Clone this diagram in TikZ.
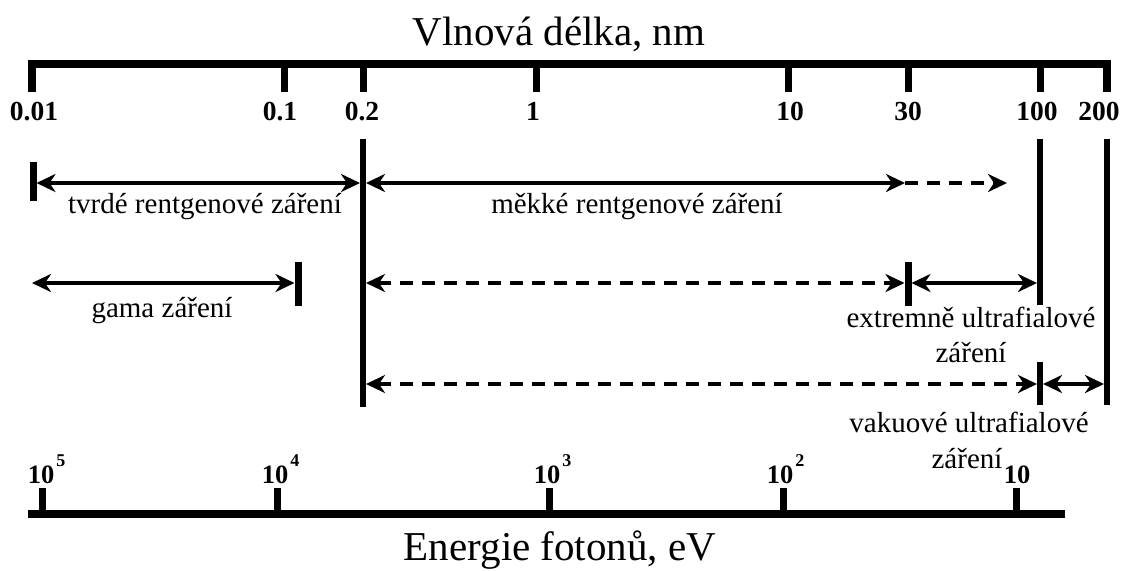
\documentclass[tikz,border=0pt]{standalone}
\usepackage{fontspec}
\setmainfont{Liberation Serif}
\usetikzlibrary{arrows.meta}
\tikzset{
  axisln/.style={line width=7.5pt, line cap=butt, line join=miter},
  tickln/.style={line width=7pt, line cap=butt},
  bigline/.style={line width=6pt, line cap=butt},
  barln/.style={line width=7pt, line cap=butt},
  rng/.style={line width=3.5pt, line cap=butt},
  both/.style={rng, {Stealth[length=19pt,width=18pt,inset=6pt]}-{Stealth[length=19pt,width=18pt,inset=6pt]}},
  onlyright/.style={rng, -{Stealth[length=19pt,width=18pt,inset=6pt]}},
  dsh/.style={dash pattern=on 13pt off 9pt},
  ticklab/.style={font=\fontsize{27.5}{27.5}\selectfont\bfseries, anchor=base, inner sep=0pt},
  elab/.style={font=\fontsize{26.5}{26.5}\selectfont\bfseries, anchor=base, inner sep=0pt},
  lab/.style={font=\fontsize{29}{30}\selectfont, anchor=base, inner sep=0pt},
  ttl/.style={font=\fontsize{41}{41}\selectfont, anchor=base, inner sep=0pt}
}
\newcommand{\tenpow}[1]{10\rlap{\hspace{2pt}\raisebox{17pt}{\fontsize{18}{18}\selectfont\bfseries #1}}}
\begin{document}
\begin{tikzpicture}[x=1pt,y=-1pt]
\useasboundingbox (0,0) rectangle (1126,570);

% titles
\node[ttl] (ttop) at (559,45) {Vlnová délka, nm};
\node[ttl] (tbot) at (560,560) {Energie fotonů, eV};

% top axis coordinates
\coordinate (w001) at (32,64);
\coordinate (w01)  at (284,64);
\coordinate (w02)  at (363,64);
\coordinate (w1)   at (536,64);
\coordinate (w10)  at (788,64);
\coordinate (w30)  at (908,64);
\coordinate (w100) at (1040,64);
\coordinate (w200) at (1107,64);

\draw[axisln] ([yshift=-28pt]w001) -- (w001) -- (w200) -- ([yshift=-28pt]w200);
\foreach \t in {w01,w02,w1,w10,w30,w100}
  \draw[tickln] (\t) -- ++(0,28);

% top labels
\node[ticklab] (l001) at (34,120) {0.01};
\node[ticklab] (l01)  at (280,120) {0.1};
\node[ticklab] (l02)  at (362,120) {0.2};
\node[ticklab] (l1)   at (533,120) {1};
\node[ticklab] (l10)  at (790,120) {10};
\node[ticklab] (l30)  at (908,120) {30};
\node[ticklab] (l100) at (1037,120) {100};
\node[ticklab] (l200) at (1099,120) {200};

% long vertical lines
\coordinate (v02a) at (363,139);  \coordinate (v02b) at (363,407);
\coordinate (v100a) at (1040,139); \coordinate (v100b) at (1040,305);
\coordinate (v200a) at (1107,139); \coordinate (v200b) at (1107,405);
\draw[bigline] (v02a) -- (v02b);
\draw[bigline] (v100a) -- (v100b);
\draw[bigline] (v200a) -- (v200b);

% short bars
\coordinate (b1a) at (33,162);   \coordinate (b1b) at (33,201);
\coordinate (bga) at (298,262);  \coordinate (bgb) at (298,306);
\coordinate (b30a) at (908,262); \coordinate (b30b) at (908,306);
\coordinate (b10a) at (1040,362); \coordinate (b10b) at (1040,405);
\draw[barln] (b1a) -- (b1b);
\draw[barln] (bga) -- (bgb);
\draw[barln] (b30a) -- (b30b);
\draw[bigline] (b10a) -- (b10b);

% row 1
\coordinate (r1a) at (36.5,183);
\coordinate (r1b) at (360,183);
\coordinate (r1c) at (366,183);
\coordinate (r1d) at (905,183);
\coordinate (r1e) at (1007,183);
\draw[both] (r1a) -- (r1b);
\draw[both] (r1c) -- (r1d);
\draw[onlyright, dsh] (r1d) -- (r1e);
\node[lab] (tvrde) at (205,213) {tvrdé rentgenové záření};
\node[lab] (mekke) at (637,213) {měkké rentgenové záření};

% row 2
\coordinate (r2a) at (32,283);
\coordinate (r2b) at (294.5,283);
\coordinate (r2c) at (366,283);
\coordinate (r2d) at (904.5,283);
\coordinate (r2e) at (911.5,283);
\coordinate (r2f) at (1037,283);
\draw[both] (r2a) -- (r2b);
\draw[both, dsh] (r2c) -- (r2d);
\draw[both] (r2e) -- (r2f);
\node[lab] (gama) at (162,317) {gama záření};
\node[lab] (euv1) at (971,327) {extremně ultrafialové};
\node[lab] (euv2) at (971,362) {záření};

% row 3
\coordinate (r3a) at (366,384);
\coordinate (r3b) at (1037,384);
\coordinate (r3c) at (1043,384);
\coordinate (r3d) at (1104,384);
\draw[both, dsh] (r3a) -- (r3b);
\draw[both] (r3c) -- (r3d);
\node[lab] (vuv1) at (969,432) {vakuové ultrafialové};
\node[lab] (vuv2) at (967,468) {záření};

% bottom axis
\coordinate (eL) at (28,514);
\coordinate (eR) at (1065,514);
\coordinate (e5) at (42,514);
\coordinate (e4) at (277,514);
\coordinate (e3) at (549,514);
\coordinate (e2) at (783,514);
\coordinate (e1) at (1016,514);
\draw[axisln] (eL) -- (eR);
\foreach \t in {e5,e4,e3,e2,e1}
  \draw[tickln] (\t) -- ++(0,-26);
\node[elab] (le5) at (41,483) {\tenpow{5}};
\node[elab] (le4) at (275,483) {\tenpow{4}};
\node[elab] (le3) at (547,483) {\tenpow{3}};
\node[elab] (le2) at (780,483) {\tenpow{2}};
\node[elab] (le1) at (1017,483) {10};
\end{tikzpicture}
\end{document}
